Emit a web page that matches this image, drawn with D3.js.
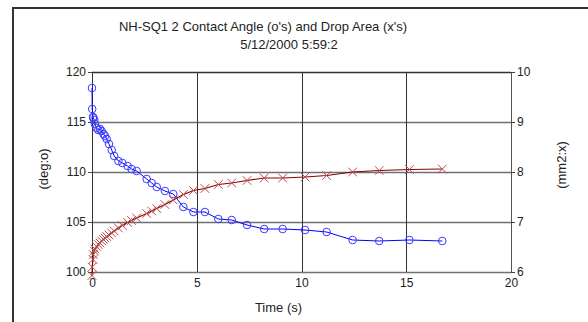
<!DOCTYPE html>
<html>
<head>
<meta charset="utf-8">
<script src="https://cdn.jsdelivr.net/npm/d3@7"></script>
<style>
  body { margin: 0; background: #fff; }
  svg { display: block; font-family: "Liberation Sans", Arial, sans-serif; }
</style>
</head>
<body>
<div id="chart"></div>
<script>
// shared time stamps (s)
const times = [0, 0.01, 0.05, 0.06, 0.11, 0.14, 0.22, 0.30, 0.38, 0.46, 0.55, 0.62, 0.70, 0.81, 0.94,
  1.06, 1.26, 1.45, 1.70, 1.89, 2.13, 2.61, 2.85, 3.09, 3.48, 3.88, 4.36, 4.84, 5.39, 6.03,
  6.67, 7.40, 8.22, 9.10, 10.17, 11.2, 12.44, 13.71, 15.15, 16.72];
// contact angle (deg), left axis
const angle = [118.4, 116.3, 115.5, 115.4, 115.2, 114.8, 114.4, 114.2, 114.3, 114.1, 113.8, 113.6, 113.3, 112.8, 112.2,
  111.6, 111.1, 110.9, 110.6, 110.3, 110.1, 109.3, 108.9, 108.5, 108.1, 107.8, 106.5, 106.0, 106.0, 105.3,
  105.2, 104.7, 104.3, 104.3, 104.2, 104.0, 103.2, 103.1, 103.2, 103.1];
// drop area (mm2), right axis
const area = [5.93, 6.1, 6.25, 6.35, 6.42, 6.46, 6.51, 6.55, 6.58, 6.62, 6.65, 6.68, 6.71, 6.74, 6.78,
  6.82, 6.88, 6.93, 6.99, 7.03, 7.08, 7.17, 7.22, 7.27, 7.35, 7.44, 7.55, 7.63, 7.67, 7.75,
  7.78, 7.83, 7.88, 7.88, 7.90, 7.93, 8.0, 8.03, 8.05, 8.06];

const xTicks = [0, 5, 10, 15, 20];
const yLeftTicks = [100, 105, 110, 115, 120];
const yRightTicks = [6, 7, 8, 9, 10];

const titleLines = ["NH-SQ1 2 Contact Angle (o's) and Drop Area (x's)", "5/12/2000 5:59:2"];

const W = 588, H = 322;
const margin = { top: 72, right: 77, bottom: 50, left: 92 };
const width = W - margin.left - margin.right;
const height = H - margin.top - margin.bottom;

const svg = d3.select("#chart").append("svg")
  .attr("width", W)
  .attr("height", H);

// outer frame (only left and top visible)
svg.append("path")
  .attr("d", "M13," + H + " L13,8 L" + W + ",8")
  .attr("fill", "none")
  .attr("stroke", "#333")
  .attr("stroke-width", 2);

// titles
svg.append("text")
  .attr("x", 263).attr("y", 31)
  .attr("text-anchor", "middle")
  .style("font-size", "13px")
  .style("fill", "#222")
  .text(titleLines[0]);
svg.append("text")
  .attr("x", 289).attr("y", 49)
  .attr("text-anchor", "middle")
  .style("font-size", "13px")
  .style("fill", "#222")
  .text(titleLines[1]);

const g = svg.append("g")
  .attr("transform", "translate(" + margin.left + "," + margin.top + ")");

const x = d3.scaleLinear().domain([0, 20]).range([0, width]);
const yL = d3.scaleLinear().domain([100, 120]).range([height, 0]);
const yR = d3.scaleLinear().domain([6, 10]).range([height, 0]);

// horizontal grid
g.append("g")
  .selectAll("line")
  .data(yLeftTicks)
  .enter()
  .append("line")
  .attr("x1", 0).attr("x2", width)
  .attr("y1", d => yL(d) + 0.5).attr("y2", d => yL(d) + 0.5)
  .attr("stroke", d => d === 120 ? "#333" : "#707070")
  .attr("stroke-width", 1.5);

// vertical grid
g.append("g")
  .selectAll("line")
  .data(xTicks.slice(1, -1))
  .enter()
  .append("line")
  .attr("x1", d => Math.round(x(d)) + 0.5).attr("x2", d => Math.round(x(d)) + 0.5)
  .attr("y1", 0).attr("y2", height)
  .attr("stroke", "#333")
  .attr("stroke-width", 1);

// axes
const axisStyle = sel => {
  sel.select(".domain").remove();
  sel.selectAll("line").attr("stroke", "#444");
  sel.selectAll("text").style("font-size", "12px").style("fill", "#222")
    .style("font-family", "'Liberation Sans', Arial, sans-serif");
};

g.append("line")
  .attr("x1", 0.5).attr("x2", 0.5).attr("y1", 0).attr("y2", height + 1)
  .attr("stroke", "#333");
g.append("line")
  .attr("x1", width + 0.5).attr("x2", width + 0.5).attr("y1", 0).attr("y2", height + 1)
  .attr("stroke", "#555");

g.append("g")
  .call(d3.axisLeft(yL).tickValues(yLeftTicks).tickFormat(d3.format("d")).tickSize(4).tickPadding(2))
  .call(axisStyle);

g.append("g")
  .attr("transform", "translate(" + width + ",0)")
  .call(d3.axisRight(yR).tickValues(yRightTicks).tickFormat(d3.format("d")).tickSize(4).tickPadding(2))
  .call(axisStyle);

g.append("g")
  .attr("transform", "translate(0," + height + ")")
  .call(d3.axisBottom(x).tickValues(xTicks).tickFormat(d3.format("d")).tickSize(0).tickPadding(6))
  .call(axisStyle);

// axis labels
g.append("text")
  .attr("x", width / 2 - 23).attr("y", height + 40)
  .attr("text-anchor", "middle")
  .style("font-size", "13px").style("fill", "#222")
  .text("Time (s)");
g.append("text")
  .attr("transform", "rotate(-90)")
  .attr("x", -height / 2 + 3).attr("y", -44)
  .attr("text-anchor", "middle")
  .style("font-size", "13px").style("fill", "#222")
  .text("(deg:o)");
g.append("text")
  .attr("transform", "rotate(-90)")
  .attr("x", -height / 2 + 7).attr("y", width + 55)
  .attr("text-anchor", "middle")
  .style("font-size", "13px").style("fill", "#222")
  .text("(mm2:x)");

const angleData = times.map((t, i) => ({ t: t, v: angle[i] }));
const areaData = times.map((t, i) => ({ t: t, v: area[i] }));

// contact angle series
g.append("path")
  .datum(angleData)
  .attr("fill", "none")
  .attr("stroke", "#0000ff")
  .attr("stroke-width", 1)
  .attr("d", d3.line().x(d => x(d.t)).y(d => yL(d.v)));

g.append("g")
  .selectAll("circle")
  .data(angleData)
  .enter()
  .append("circle")
  .attr("cx", d => x(d.t))
  .attr("cy", d => yL(d.v))
  .attr("r", 3.8)
  .attr("fill", "none")
  .attr("stroke", "#3b3bff")
  .attr("stroke-width", 1);

// drop area series
g.append("path")
  .datum(areaData)
  .attr("fill", "none")
  .attr("stroke", "#8b0000")
  .attr("stroke-width", 1.2)
  .attr("d", d3.line().x(d => x(d.t)).y(d => yR(d.v)));

const s = 4.3;
g.append("g")
  .selectAll("path")
  .data(areaData)
  .enter()
  .append("path")
  .attr("transform", d => "translate(" + x(d.t) + "," + yR(d.v) + ")")
  .attr("d", "M" + (-s) + "," + (-s) + "L" + s + "," + s + "M" + (-s) + "," + s + "L" + s + "," + (-s))
  .attr("fill", "none")
  .attr("stroke", "#b84a4a")
  .attr("stroke-width", 1);
</script>
</body>
</html>
